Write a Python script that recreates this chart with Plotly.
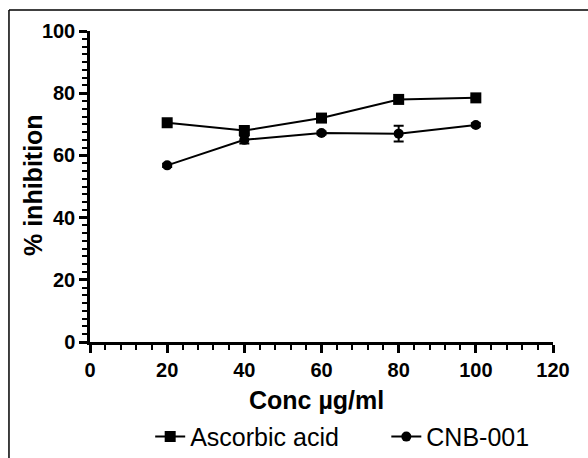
import plotly.graph_objects as go

conc = [20, 40, 60, 80, 100]
ascorbic = [70.5, 68.0, 72.0, 78.0, 78.5]
ascorbic_err = [0.5, 1.0, 0.5, 0.5, 0.5]
cnb = [56.8, 65.0, 67.2, 67.0, 69.8]
cnb_err = [0.5, 1.2, 0.5, 2.5, 0.5]

fig = go.Figure()
fig.add_trace(go.Scatter(
    x=conc, y=ascorbic, name="Ascorbic acid", mode="lines+markers",
    line=dict(color="black", width=2),
    marker=dict(symbol="square", size=11, color="black"),
    error_y=dict(type="data", array=ascorbic_err, color="black", thickness=2, width=5),
    legend="legend",
))
fig.add_trace(go.Scatter(
    x=conc, y=cnb, name="CNB-001", mode="lines+markers",
    line=dict(color="black", width=2),
    marker=dict(symbol="circle", size=10, color="black"),
    error_y=dict(type="data", array=cnb_err, color="black", thickness=2, width=5),
    legend="legend2",
))

font_family = "Liberation Sans, Arial, sans-serif"
legend_common = dict(orientation="h", y=-0.305, yanchor="middle", xanchor="left",
                     font=dict(size=25, family=font_family), bgcolor="rgba(0,0,0,0)")
fig.update_layout(
    width=588, height=458,
    margin=dict(l=90, r=35, t=31, b=116, autoexpand=False),
    paper_bgcolor="white", plot_bgcolor="white",
    font=dict(family=font_family, color="black"),
    showlegend=True,
    legend=dict(x=0.13, **legend_common),
    legend2=dict(x=0.64, **legend_common),
    xaxis=dict(
        range=[0, 120], tickvals=[0, 20, 40, 60, 80, 100, 120],
        showline=True, linecolor="black", linewidth=2.5,
        ticks="outside", ticklen=8, tickwidth=2.5, tickcolor="black",
        minor=dict(dtick=4, ticks="outside", ticklen=5, tickwidth=2, tickcolor="black"),
        showgrid=False, zeroline=False, automargin=False,
        tickfont=dict(size=20, family=font_family, weight="bold"),
    ),
    yaxis=dict(
        range=[0, 100], tickvals=[0, 20, 40, 60, 80, 100],
        showline=True, linecolor="black", linewidth=2.5,
        ticks="outside", ticklen=8, tickwidth=2.5, tickcolor="black",
        minor=dict(dtick=2.5, ticks="outside", ticklen=5, tickwidth=2, tickcolor="black"),
        showgrid=False, zeroline=False, automargin=False,
        tickfont=dict(size=20, family=font_family, weight="bold"),
    ),
    annotations=[
        dict(text="Conc µg/ml", xref="paper", yref="paper", x=0.49, y=-0.186,
             xanchor="center", yanchor="middle", showarrow=False,
             font=dict(size=25, family=font_family, weight="bold")),
        dict(text="% inhibition", xref="paper", yref="paper", x=-0.123, y=0.505,
             xanchor="center", yanchor="middle", showarrow=False, textangle=-90,
             font=dict(size=25, family=font_family, weight="bold")),
    ],
    shapes=[
        dict(type="line", xref="paper", yref="paper", x0=-0.175, x1=-0.175, y0=1.0675, y1=-0.4,
             line=dict(color="black", width=1.5)),
        dict(type="line", xref="paper", yref="paper", x0=-0.175, x1=1.1, y0=1.0675, y1=1.0675,
             line=dict(color="black", width=1.5)),
    ],
)

fig.write_html("out.html", config={"displayModeBar": False},
               post_script="document.body.style.margin='0';document.body.style.overflow='hidden';")
